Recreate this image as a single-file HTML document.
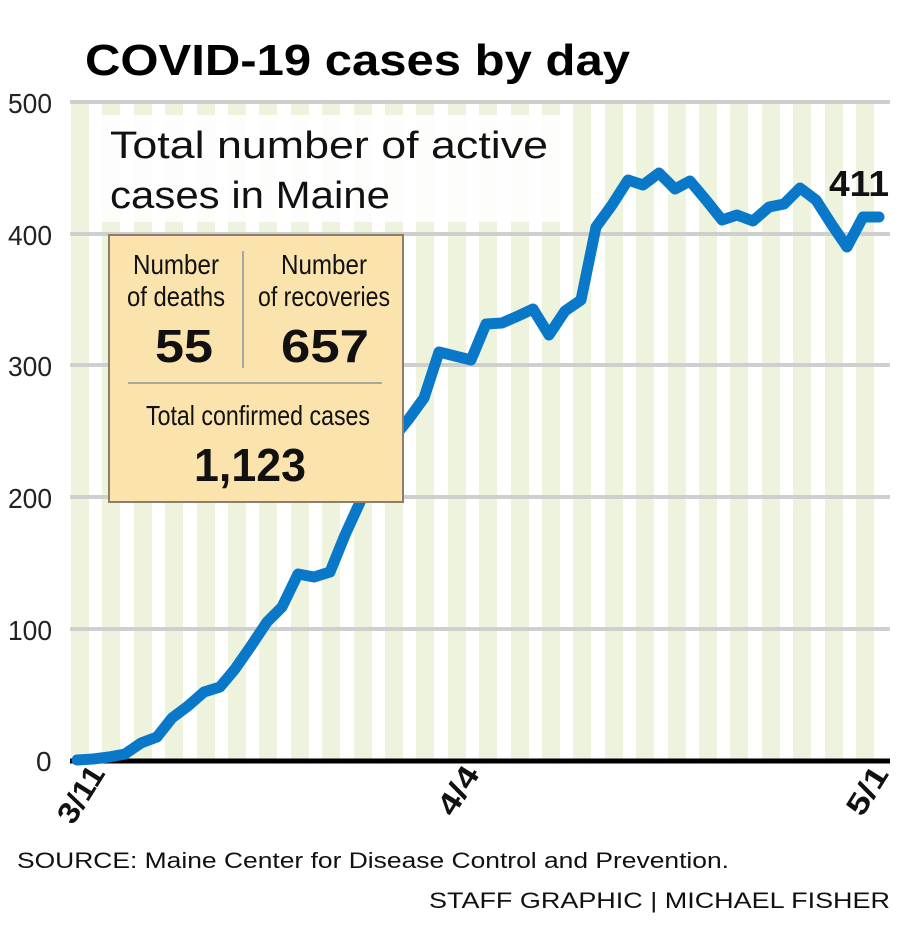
<!DOCTYPE html>
<html><head><meta charset="utf-8"><style>
html,body{margin:0;padding:0;background:#fff;width:910px;height:932px;overflow:hidden}
svg{display:block}
text{font-family:"Liberation Sans",sans-serif}
</style></head><body>
<svg width="910" height="932" viewBox="0 0 910 932" xmlns="http://www.w3.org/2000/svg">
<g fill="#eef3dd">
<rect x="71" y="102" width="18" height="658"/><rect x="102" y="102" width="18" height="658"/><rect x="134" y="102" width="18" height="658"/><rect x="165" y="102" width="18" height="658"/><rect x="197" y="102" width="18" height="658"/><rect x="228" y="102" width="18" height="658"/><rect x="259" y="102" width="18" height="658"/><rect x="291" y="102" width="18" height="658"/><rect x="322" y="102" width="18" height="658"/><rect x="354" y="102" width="18" height="658"/><rect x="385" y="102" width="18" height="658"/><rect x="416" y="102" width="18" height="658"/><rect x="448" y="102" width="18" height="658"/><rect x="479" y="102" width="18" height="658"/><rect x="511" y="102" width="18" height="658"/><rect x="542" y="102" width="18" height="658"/><rect x="573" y="102" width="18" height="658"/><rect x="605" y="102" width="18" height="658"/><rect x="636" y="102" width="18" height="658"/><rect x="668" y="102" width="18" height="658"/><rect x="699" y="102" width="18" height="658"/><rect x="730" y="102" width="18" height="658"/><rect x="762" y="102" width="18" height="658"/><rect x="793" y="102" width="18" height="658"/><rect x="825" y="102" width="18" height="658"/><rect x="856" y="102" width="18" height="658"/>
</g>
<g stroke="#cfcfcf" stroke-width="4">
<line x1="70" y1="102" x2="890" y2="102"/><line x1="70" y1="234" x2="890" y2="234"/><line x1="70" y1="365" x2="890" y2="365"/><line x1="70" y1="497" x2="890" y2="497"/><line x1="70" y1="629" x2="890" y2="629"/>
</g>
<rect x="100" y="115" width="462" height="107" fill="#fff" opacity="0.88"/>
<line x1="70" y1="761" x2="890" y2="761" stroke="#000" stroke-width="5"/>
<polyline fill="none" stroke="#0a78c8" stroke-width="11" stroke-linejoin="round" stroke-linecap="round" points="77,760 93,759 109,757 125,754 141,743 157,737 172,718 188,706 204,692 220,687 235,669 251,646 267,622 282,607 298,574 314,577 330,572 345,535 361,500 376,470 392,440 408,420 424,398 439,352 455,356 471,360 486,324 502,323 518,316 533,309 549,335 565,311 581,300 596,227 612,205 628,180 643,185 659,173 675,189 690,181 706,200 722,220 737,215 753,221 769,207 784,204 800,188 816,200 832,225 847,247 863,217 879,217"/>
<text x="85" y="75" font-size="44" font-weight="bold" fill="#000" textLength="545" lengthAdjust="spacingAndGlyphs">COVID-19 cases by day</text>
<g font-size="28" fill="#222" text-anchor="start">
<text x="8" y="113" textLength="44" lengthAdjust="spacingAndGlyphs">500</text>
<text x="8" y="245" textLength="44" lengthAdjust="spacingAndGlyphs">400</text>
<text x="8" y="376" textLength="44" lengthAdjust="spacingAndGlyphs">300</text>
<text x="8" y="508" textLength="44" lengthAdjust="spacingAndGlyphs">200</text>
<text x="8" y="640" textLength="44" lengthAdjust="spacingAndGlyphs">100</text>
<text x="36" y="771">0</text>
</g>
<text x="110" y="158" font-size="38" fill="#111" textLength="438" lengthAdjust="spacingAndGlyphs">Total number of active</text>
<text x="110" y="208" font-size="38" fill="#111" textLength="280" lengthAdjust="spacingAndGlyphs">cases in Maine</text>
<text x="829" y="196" font-size="36" font-weight="bold" fill="#111" textLength="60" lengthAdjust="spacingAndGlyphs">411</text>
<rect x="109" y="235" width="294" height="267" fill="#fbe3ae" stroke="#8c7d6c" stroke-width="2"/>
<line x1="243" y1="251" x2="243" y2="368" stroke="#a8a8a0" stroke-width="2"/>
<line x1="128" y1="383" x2="382" y2="383" stroke="#a8a8a0" stroke-width="2"/>
<g fill="#111" font-size="28" text-anchor="middle">
<text x="176" y="274" textLength="86" lengthAdjust="spacingAndGlyphs">Number</text>
<text x="176" y="306" textLength="98" lengthAdjust="spacingAndGlyphs">of deaths</text>
<text x="324" y="274" textLength="86" lengthAdjust="spacingAndGlyphs">Number</text>
<text x="324" y="306" textLength="132" lengthAdjust="spacingAndGlyphs">of recoveries</text>
<text x="258" y="425" textLength="224" lengthAdjust="spacingAndGlyphs">Total confirmed cases</text>
</g>
<g fill="#111" font-size="46" font-weight="bold" text-anchor="middle">
<text x="184" y="362" textLength="58" lengthAdjust="spacingAndGlyphs">55</text>
<text x="325" y="362" textLength="88" lengthAdjust="spacingAndGlyphs">657</text>
<text x="250" y="481" textLength="112" lengthAdjust="spacingAndGlyphs">1,123</text>
</g>
<g fill="#111" font-size="30" font-weight="bold">
<text transform="translate(73,826) rotate(-58)" textLength="62" lengthAdjust="spacingAndGlyphs">3/11</text>
<text transform="translate(453,818) rotate(-58)" textLength="52" lengthAdjust="spacingAndGlyphs">4/4</text>
<text transform="translate(862,818) rotate(-58)" textLength="52" lengthAdjust="spacingAndGlyphs">5/1</text>
</g>
<text x="17" y="868" font-size="22" fill="#111" textLength="712" lengthAdjust="spacingAndGlyphs">SOURCE: Maine Center for Disease Control and Prevention.</text>
<text x="429" y="908" font-size="22" fill="#111" textLength="461" lengthAdjust="spacingAndGlyphs">STAFF GRAPHIC | MICHAEL FISHER</text>
</svg>
</body></html>
